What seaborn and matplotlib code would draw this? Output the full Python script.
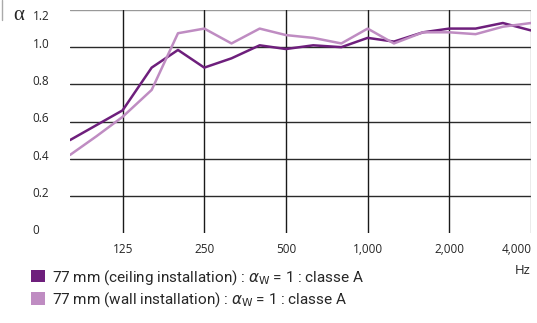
import matplotlib
matplotlib.use("Agg")
import matplotlib.pyplot as plt
import matplotlib.transforms as mtransforms
from matplotlib import font_manager
from matplotlib.patches import Patch
from matplotlib.lines import Line2D
import seaborn as sns
import pandas as pd

# third-octave bands, Hz
freqs = [80, 100, 125, 160, 200, 250, 315, 400, 500, 630, 800, 1000,
         1250, 1600, 2000, 2500, 3150, 4000]
ceiling = [0.50, 0.58, 0.66, 0.89, 0.985, 0.89, 0.94, 1.01, 0.99, 1.01, 1.00, 1.05,
           1.03, 1.08, 1.10, 1.10, 1.13, 1.09]
wall = [0.42, 0.52, 0.625, 0.77, 1.075, 1.10, 1.02, 1.10, 1.065, 1.05, 1.02, 1.10,
        1.02, 1.08, 1.08, 1.07, 1.11, 1.13]
series_names = ["77 mm (ceiling installation) : $\\alpha_{\\mathrm{W}}$ = 1 : classe A",
                "77 mm (wall installation) : $\\alpha_{\\mathrm{W}}$ = 1 : classe A"]
colors = ["#6e1f7c", "#bf8cc2"]
xticks = [125, 250, 500, 1000, 2000, 4000]
xlabels = ["125", "250", "500", "1,000", "2,000", "4,000"]
yticks = [0, 0.2, 0.4, 0.6, 0.8, 1.0, 1.2]
ylabels = ["0", "0.2", "0.4", "0.6", "0.8", "1.0", "1.2"]

df = pd.DataFrame({
    "Hz": freqs * 2,
    "alpha": ceiling + wall,
    "serie": [series_names[0]] * len(freqs) + [series_names[1]] * len(freqs),
})

sns.set_style("white")
plt.rcParams["font.family"] = ["Open Sans", "DejaVu Sans"]
plt.rcParams["mathtext.fontset"] = "dejavusans"

# narrow font for the legend if there is one
names = {f.name for f in font_manager.fontManager.ttflist}
if "Liberation Sans Narrow" in names:
    leg_font = {"family": "Liberation Sans Narrow", "size": 12}
else:
    leg_font = {"family": "Roboto", "size": 11}

fig = plt.figure(figsize=(5.37, 3.23), dpi=100)
ax = fig.add_axes([70/537, 1-233/323, 461/537, 223/323])

for v in yticks[1:]:
    ax.axhline(v, color="#999999" if v == 1.2 else "#2a2a2a", lw=1.0, zorder=1)
for t in xticks:
    ax.axvline(t, color="#999999" if t == 4000 else "#1a1a1a", lw=1.0, zorder=1)

sns.lineplot(data=df, x="Hz", y="alpha", hue="serie", palette=colors,
             lw=1.8, ax=ax, legend=False, zorder=3)

ax.set_xscale("log")
ax.set_xlim(80, 4000)
ax.set_ylim(0, 1.2)
ax.set_xticks(xticks)
ax.set_xticklabels(xlabels)
ax.minorticks_off()
ax.set_yticks(yticks)
ax.set_yticklabels(ylabels)
ax.set_xlabel("")
ax.set_ylabel("")
for s in ax.spines.values():
    s.set_visible(False)
ax.tick_params(axis="x", length=0, pad=7, labelsize=8.5)
ax.tick_params(axis="y", length=0, pad=27, labelsize=8.5)
ax.get_xticklabels()[-1].set_horizontalalignment("right")
ax.get_xticklabels()[-1].set_transform(
    ax.get_xticklabels()[-1].get_transform() +
    mtransforms.ScaledTranslation(1/100, 0, fig.dpi_scale_trans))
for lab in ax.get_yticklabels():
    lab.set_horizontalalignment("left")
    dy = -5 if lab.get_text() == "1.2" else 4
    lab.set_transform(lab.get_transform() +
                      mtransforms.ScaledTranslation(0, dy/100, fig.dpi_scale_trans))

fig.text(19/537, 1-16/323, "\u03b1", fontsize=15, ha="center", va="center",
         family="Liberation Serif")
fig.text(531/537, 1-270/323, "Hz", fontsize=9.5, ha="right", va="center")
fig.add_artist(Line2D([1.5/537, 1.5/537], [1, 1-20/323], color="#aaaaaa", lw=1))

handles = [Patch(facecolor=c, edgecolor="none") for c in colors]
fig.legend(handles, series_names, loc="upper left",
           bbox_to_anchor=(31/537, 1-268/323), frameon=False,
           handlelength=0.9, handleheight=0.9, handletextpad=0.45,
           labelspacing=0.25, borderaxespad=0, borderpad=0,
           prop=leg_font)

fig.savefig("out.png", dpi=100)
